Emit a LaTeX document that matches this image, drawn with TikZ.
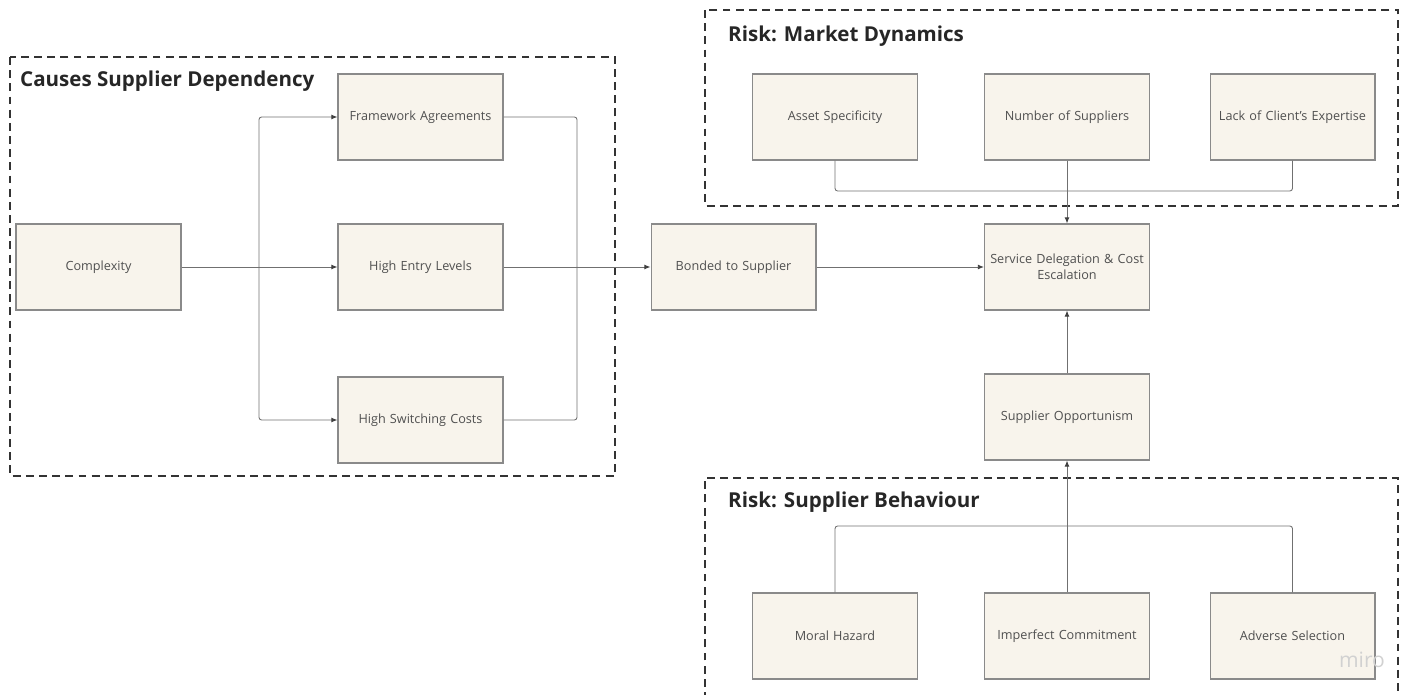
\documentclass[tikz,border=0pt]{standalone}
\usepackage{fontspec}
\setmainfont{Open Sans}
\usepackage{tikz}
\usetikzlibrary{arrows.meta}

\definecolor{boxfill}{HTML}{F8F4EC}
\definecolor{boxline}{HTML}{8A8A8A}
\definecolor{linkcol}{HTML}{707070}
\definecolor{txtcol}{HTML}{505050}

\tikzset{
  factor/.style={draw=boxline, fill=boxfill, line width=0.6pt, minimum width=3.3cm,
    minimum height=1.72cm, inner sep=1pt, text width=3.2cm, align=center,
    font=\fontsize{7.2}{9}\selectfont, text=txtcol},
  group/.style={draw=black!80, line width=0.8pt, dash pattern=on 4.5pt off 3pt},
  grouptitle/.style={anchor=west, font=\fontsize{11.7}{13}\selectfont\bfseries, text=black!85},
  link/.style={draw=linkcol, line width=0.5pt, rounded corners=1.5pt},
  arr/.style={link, -{Latex[length=3.5pt,width=2.8pt,color=black!75]}}
}

\begin{document}
\begin{tikzpicture}[x=0.02cm, y=-0.02cm]
      \useasboundingbox (0,0) rectangle (1408,695);

      % groups
      \draw[group] (10,57) rectangle (615,476);
      \draw[group] (705,10) rectangle (1398,206);
      \draw[group] (705,700) -- (705,478) -- (1398,478) -- (1398,700);
      \node[grouptitle] (tdep) at (14,81) {Causes Supplier Dependency};
      \node[grouptitle] (tmkt) at (722,36) {Risk: Market Dynamics};
      \node[grouptitle] (tbeh) at (722,502) {Risk: Supplier Behaviour};

      % factors
      \node[factor] (complexity) at (98.5,267) {Complexity};
      \node[factor] (framework) at (420.5,117) {Framework Agreements};
      \node[factor] (entry) at (420.5,267) {High Entry Levels};
      \node[factor] (switching) at (420.5,420) {High Switching Costs};
      \node[factor] (bonded) at (733.5,267) {Bonded to Supplier};
      \node[factor] (service) at (1067,267) {\mbox{Service Delegation \& Cost}\\Escalation};
      \node[factor] (opportunism) at (1067,417) {Supplier Opportunism};
      \node[factor] (asset) at (835,117) {Asset Specificity};
      \node[factor] (number) at (1067,117) {Number of Suppliers};
      \node[factor] (expertise) at (1292.5,117) {Lack of Client's Expertise};
      \node[factor] (moral) at (835,636) {Moral Hazard};
      \node[factor] (imperfect) at (1067,636) {Imperfect Commitment};
      \node[factor] (adverse) at (1292.5,636) {Adverse Selection};
      \node[text=black!18, font=\fontsize{12}{14}\selectfont] (miro) at (1362,660) {miro};

      \coordinate (split) at (259,267);
      \coordinate (join) at (577,267);
      \coordinate (mktjoin) at (1067,191);
      \coordinate (behjoin) at (1067,526);

      % links
      \draw[link] (complexity.east) -- (split);
      \draw[arr] (split) |- (framework.west);
      \draw[arr] (split) -- (entry.west);
      \draw[arr] (split) |- (switching.west);
      \draw[link] (framework.east) -| (join);
      \draw[link] (switching.east) -| (join);
      \draw[link] (entry.east) -- (join);
      \draw[arr] (join) -- (bonded.west);
      \draw[arr] (bonded.east) -- (service.west);
      \draw[link] (asset.south) |- (mktjoin);
      \draw[link] (expertise.south) |- (mktjoin);
      \draw[arr] (number.south) -- (service.north);
      \draw[arr] (opportunism.north) -- (service.south);
      \draw[link] (moral.north) |- (behjoin);
      \draw[link] (adverse.north) |- (behjoin);
      \draw[arr] (imperfect.north) -- (opportunism.south);
\end{tikzpicture}
\end{document}
